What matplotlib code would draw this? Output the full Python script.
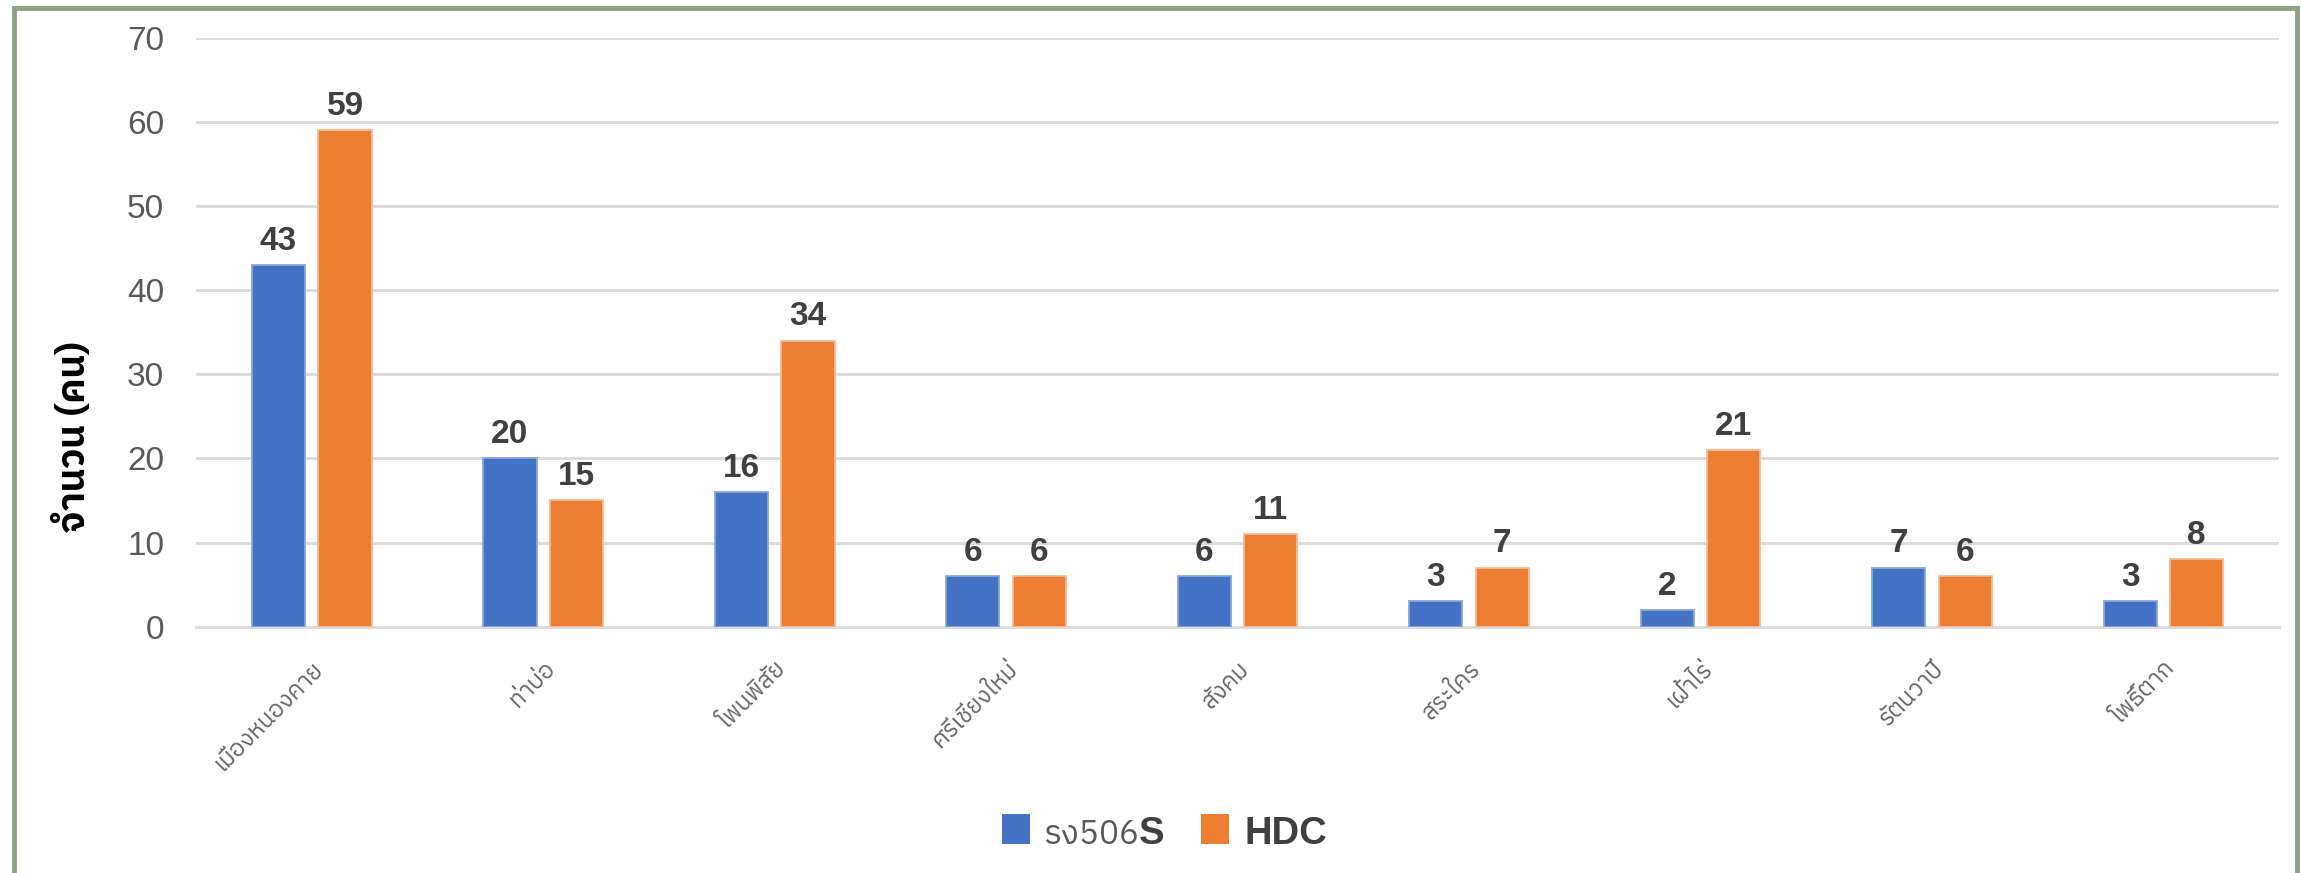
import matplotlib
matplotlib.use("Agg")
import matplotlib.pyplot as plt
from matplotlib import font_manager
from matplotlib.ft2font import FT2Font
from matplotlib.patches import Rectangle
from matplotlib.offsetbox import AnchoredOffsetbox, HPacker, TextArea, DrawingArea
import numpy as np

# ---- data ----
districts = ["เมืองหนองคาย", "ท่าบ่อ", "โพนพิสัย", "ศรีเชียงใหม่", "สังคม",
             "สระใคร", "เฝ้าไร่", "รัตนวาปี", "โพธิ์ตาก"]
r506 = [43, 20, 16, 6, 6, 3, 2, 7, 3]
hdc = [59, 15, 34, 6, 11, 7, 21, 6, 8]
series_a_main = "รง506"
series_a_tail = "S"
series_b = "HDC"
y_ticks = [0, 10, 20, 30, 40, 50, 60, 70]
y_label = "จำนวน (คน)"


def find_thai_font():
    found = []
    seen = set()
    for f in font_manager.fontManager.ttflist:
        if f.fname in seen:
            continue
        seen.add(f.fname)
        try:
            cm = FT2Font(f.fname).get_charmap()
        except Exception:
            continue
        if 0x0E08 in cm and 0x0E33 in cm and 0x0E40 in cm:
            found.append(f.name)
    if not found:
        return None
    def score(n):
        s = 0
        if "Thai" in n:
            s -= 2
        if "Sans" in n:
            s -= 1
        if "Looped" in n or "Mono" in n or "Serif" in n:
            s += 3
        return s
    found.sort(key=score)
    return found[0]


thai = find_thai_font()
fam = ([thai] if thai else []) + ["Liberation Sans", "DejaVu Sans"]
num_fam = ["Liberation Sans", "DejaVu Sans"]
plt.rcParams["font.family"] = fam

BLUE = "#4472C4"
ORANGE = "#ED7D31"
GRID = "#DCDCDC"
LABEL = "#404040"
TICK = "#595959"

fig = plt.figure(figsize=(23.01, 8.73), dpi=100)
ax = fig.add_axes([0.0852, 0.2822, 0.9053, 0.6743])

x = np.arange(len(districts))
w = 0.23
off = 0.1437
b1 = ax.bar(x - off, r506, width=w, color=BLUE, edgecolor="#8aa6da", linewidth=1.3, zorder=3)
b2 = ax.bar(x + off, hdc, width=w, color=ORANGE, edgecolor="#f5bb95", linewidth=1.3, zorder=3)

for bars, vals in ((b1, r506), (b2, hdc)):
    for rect, v in zip(bars, vals):
        ax.annotate(str(v), (rect.get_x() + rect.get_width() / 2, v),
                    xytext=(0, 11), textcoords="offset points",
                    ha="center", va="baseline", fontsize=24, fontweight="bold",
                    color=LABEL, family=num_fam)

ax.set_xlim(-0.5, len(districts) - 0.5)
ax.set_ylim(0, 70)
ax.set_yticks(y_ticks)
ax.set_yticklabels([str(t) for t in y_ticks], family=num_fam, fontsize=24,
                   color=TICK)
ax.tick_params(axis="y", length=0, pad=23)
ax.set_xticks(x)
ax.set_xticklabels(districts, rotation=45, ha="right", va="top",
                   rotation_mode="anchor", fontsize=17, color="#666666")
ax.tick_params(axis="x", length=0, pad=22)

ax.yaxis.grid(True, color=GRID, linewidth=2.2, zorder=0)
ax.set_axisbelow(True)
for s in ("top", "right", "left"):
    ax.spines[s].set_visible(False)
ax.spines["bottom"].set_color(GRID)
ax.spines["bottom"].set_linewidth(2.2)

fig.text(0.032, 0.50, y_label, rotation=90, ha="center", va="center",
         fontsize=27, fontweight="bold", color="black")


def square(color):
    da = DrawingArea(20, 21.6, 0, 0)
    da.add_artist(Rectangle((0, 0), 20, 21.6, facecolor=color, edgecolor="none"))
    return da


ta1 = TextArea(series_a_main, textprops=dict(size=24, color=TICK, family=fam))
ta2 = TextArea(series_a_tail, textprops=dict(size=27.5, weight="bold", color=LABEL, family=num_fam))
tb = TextArea(series_b, textprops=dict(size=27.5, weight="bold", color=LABEL, family=num_fam))
lab1 = HPacker(children=[ta1, ta2], align="baseline", pad=0, sep=0)
e1 = HPacker(children=[square(BLUE), lab1], align="baseline", pad=0, sep=9.4)
e2 = HPacker(children=[square(ORANGE), tb], align="baseline", pad=0, sep=10.8)
legbox = HPacker(children=[e1, e2], align="baseline", pad=0, sep=26.6)
anch = AnchoredOffsetbox(loc="center", child=legbox, pad=0, borderpad=0, frameon=False,
                         bbox_to_anchor=(0.506, 0.0458), bbox_transform=fig.transFigure)
fig.add_artist(anch)

fig.patches.append(Rectangle((0.0061, -0.05), 0.9922, 1.0408, transform=fig.transFigure,
                             fill=False, edgecolor="#8FA082", linewidth=3.5, zorder=10))

fig.savefig("out.png", dpi=100, facecolor="white")
